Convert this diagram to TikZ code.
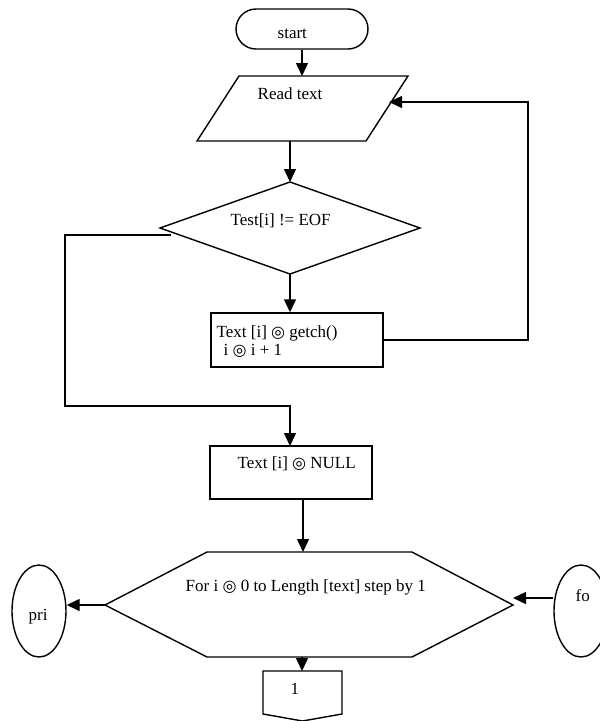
\documentclass[tikz,border=0pt]{standalone}
\usepackage{fontspec}
\setmainfont{Liberation Serif}
\newfontfamily\symf{DejaVu Sans}
\usetikzlibrary{arrows.meta,shapes.geometric}
\newcommand\fs{\fontsize{17}{20}\selectfont}
\newcommand\cz{{\symf\fontsize{16}{16}\selectfont ◎}}
\begin{document}
\begin{tikzpicture}[x=1pt,y=-1pt,line width=1.4pt,
  arr/.style={-{Triangle[length=13pt,width=12pt]}},
  txt/.style={anchor=base west,inner sep=0pt,font=\fs},
  boxs/.style={draw,inner sep=0pt,rectangle},
  ell/.style={draw,ellipse,inner sep=0pt,minimum width=54pt,minimum height=92pt}]
\useasboundingbox (0,0) rectangle (600,721);
% shapes
\node[boxs,rounded corners=20pt,minimum width=132pt,minimum height=40pt] (start) at (302,29) {};
\draw (239,76) -- (408,76) -- (366,141) -- (197,141) -- cycle;
\coordinate (rdTop) at (302,76);
\coordinate (rdBot) at (290,141);
\coordinate (rdIn) at (389,102);
\draw (290,182) -- (420,228) -- (290,274) -- (160,228) -- cycle;
\coordinate (dTop) at (290,182);
\coordinate (dBot) at (290,274);
\coordinate (dOut) at (171,235);
\node[boxs,minimum width=172pt,minimum height=54pt] (box1) at (297,340) {};
\node[boxs,minimum width=162pt,minimum height=53pt] (box2) at (291,472.5) {};
\draw (105,605) -- (207,552) -- (412,552) -- (513,605) -- (412,657) -- (207,657) -- cycle;
\coordinate (hexTop) at (303,552);
\coordinate (hexL) at (105,605);
\coordinate (hexR) at (513,598);
\coordinate (hexBot) at (302,657);
\node[ell] (pri) at (39,611) {};
\node[ell] (fo) at (581,611) {};
\draw (263,671) -- (342,671) -- (342,714) -- (302.5,721) -- (263,714) -- cycle;
\coordinate (conTop) at (302,671);
% texts
\node[txt] (tStart) at (277,38) {start};
\node[txt] (tRead) at (257,99) {Read text};
\node[txt] (tTest) at (230,225) {Test[i] != EOF};
\node[txt] (tB1a) at (216,337) {Text [i] \cz{} getch()};
\node[txt] (tB1b) at (223,355) {i \cz{} i + 1};
\node[txt] (tNull) at (237,468) {Text [i] \cz{} NULL};
\node[txt] (tFor) at (185,591) {For i \cz{} 0 to Length [text] step by 1};
\node[txt] (tPri) at (28,620) {pri};
\node[txt] (tFo) at (575,601) {fo};
\node[txt] (tOne) at (290,694) {1};
% connectors
\coordinate (fb) at (528,102);
\coordinate (lb) at (65,406);
\coordinate (nullIn) at (290,446);
\coordinate (nullOut) at (303,499);
\draw[arr] (start.south) -- (rdTop);
\draw[arr] (rdBot) -- (dTop);
\draw[arr] (dBot) -- (dBot |- box1.north);
\draw[arr] (box1.east) -| (fb) -- (rdIn);
\draw[arr] (dOut) -| (lb) -| (nullIn);
\draw[arr] (nullOut) -- (hexTop);
\draw[arr] (hexL) -- (hexL -| pri.east);
\draw[arr] (hexR -| fo.west) -- (hexR);
\draw[arr] (hexBot) -- (conTop);
\end{tikzpicture}
\end{document}
